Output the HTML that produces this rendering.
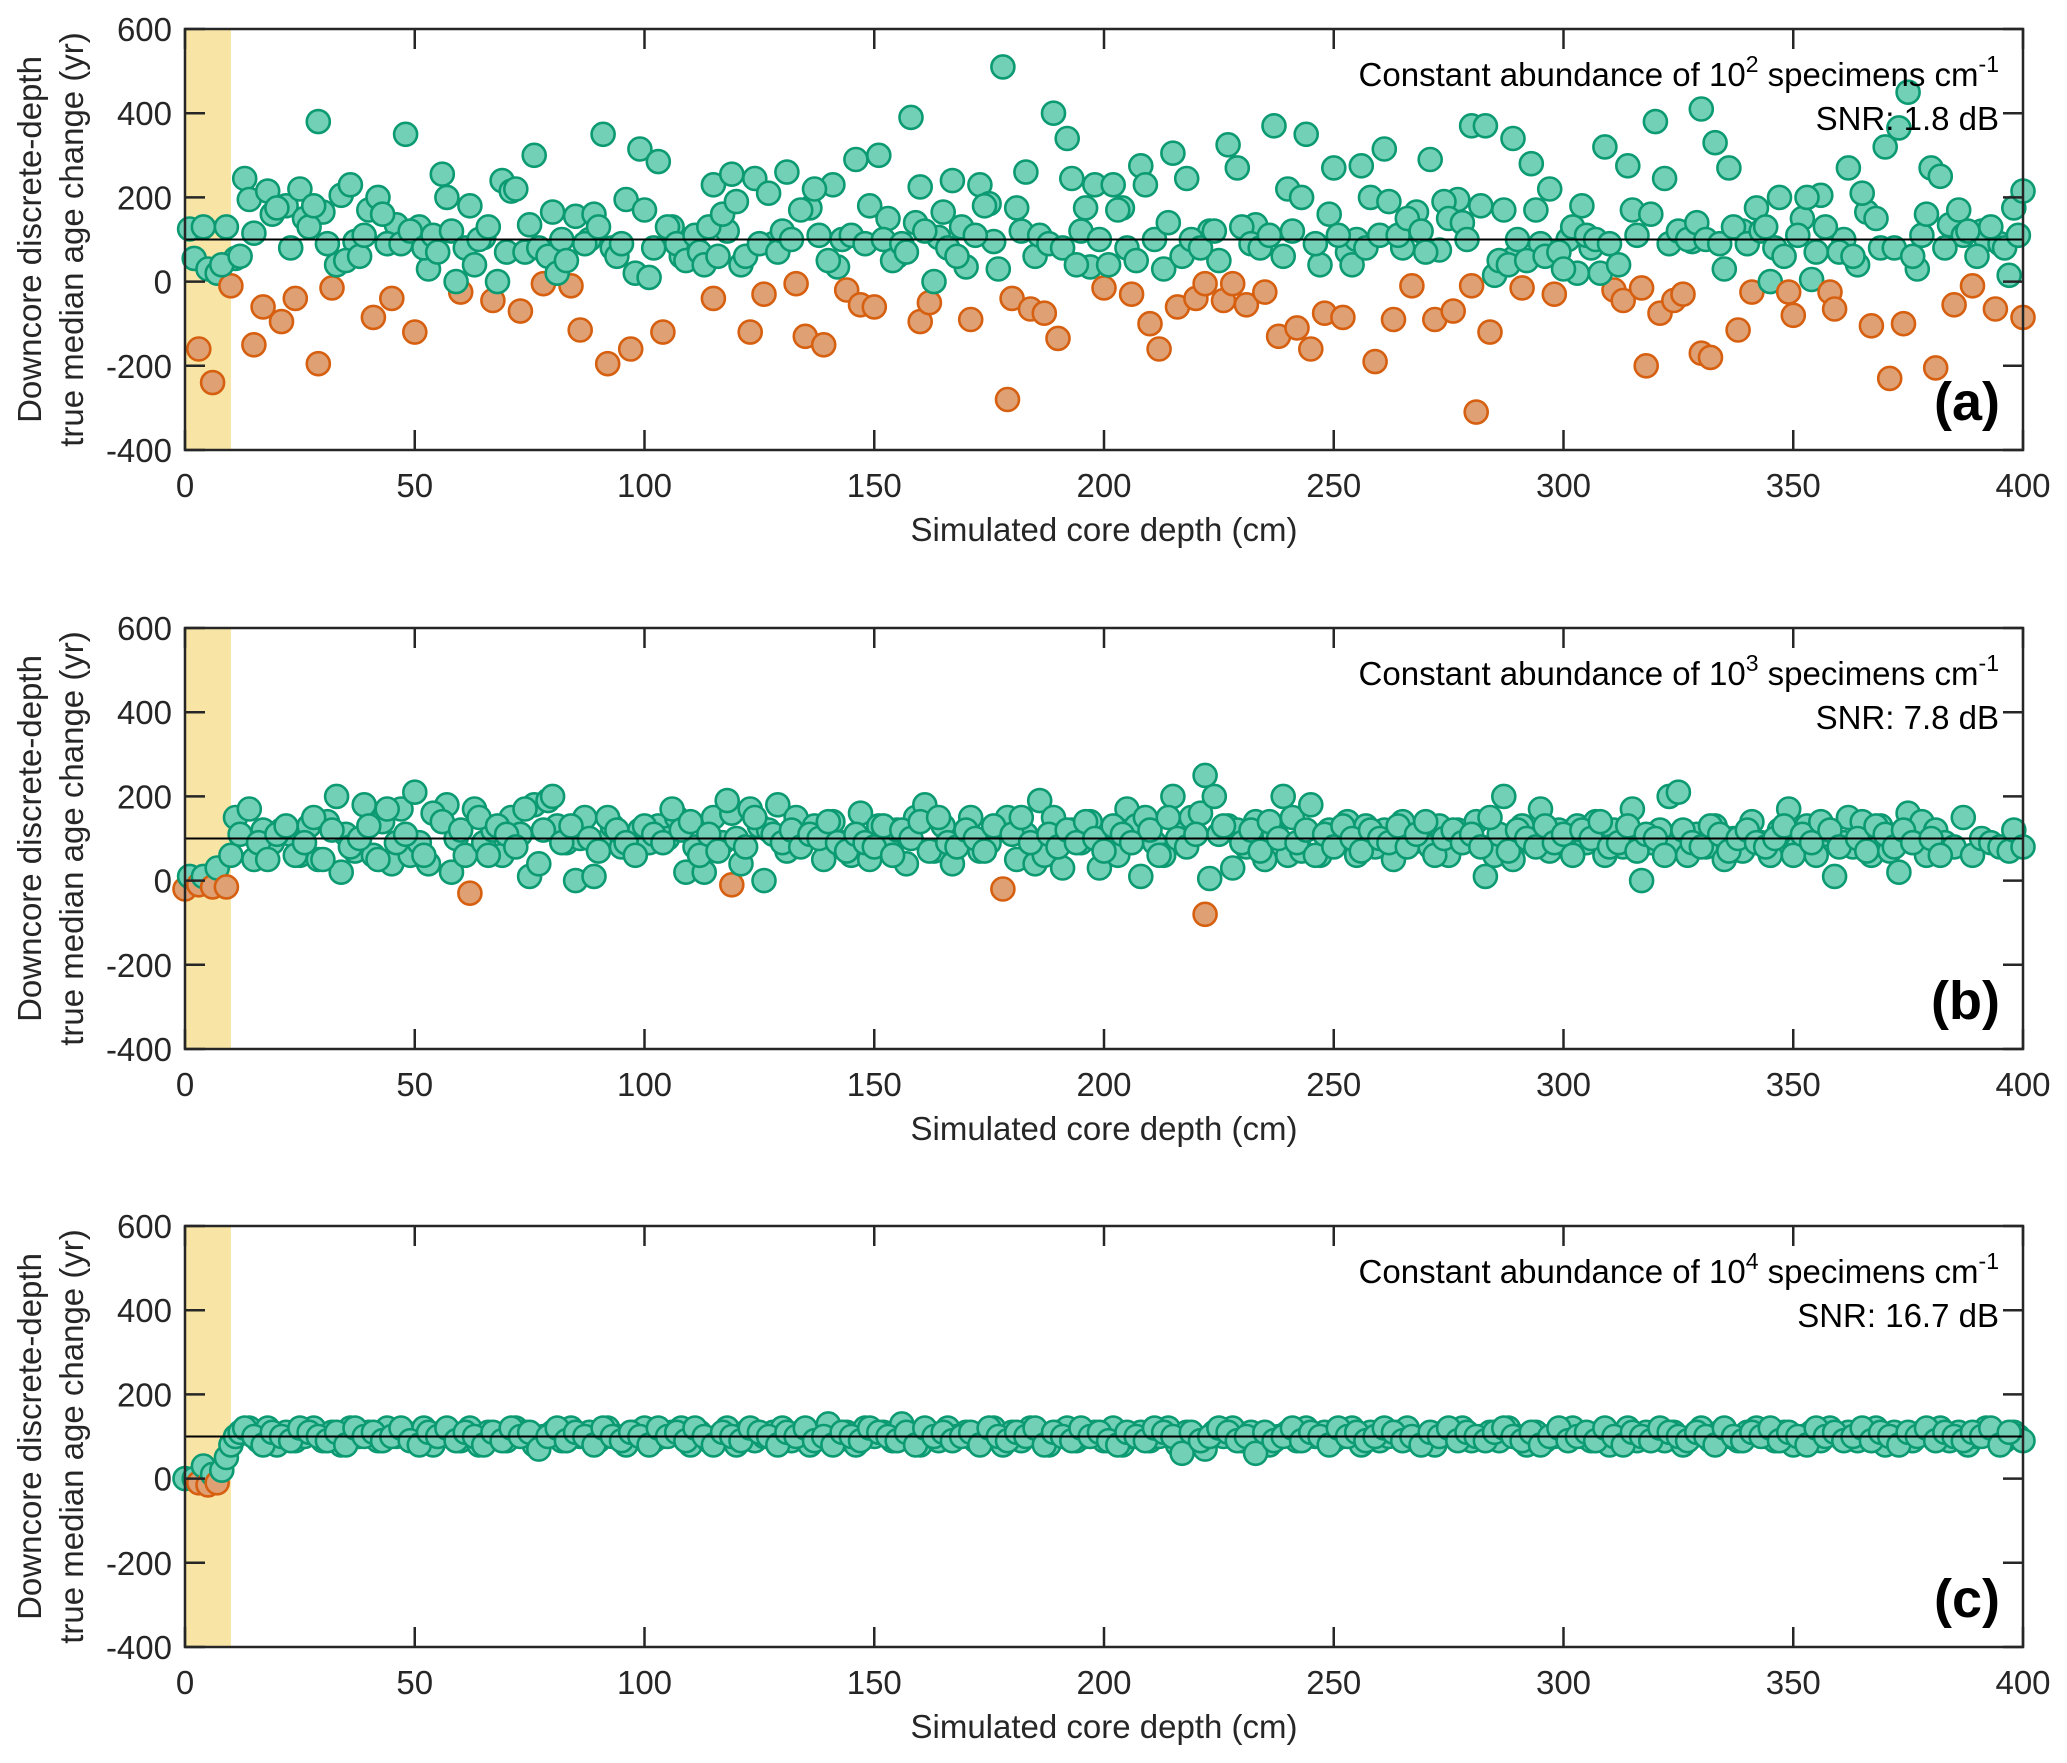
<!DOCTYPE html>
<html><head><meta charset="utf-8"><title>Downcore age change</title>
<style>
html,body{margin:0;padding:0;background:#fff;}
svg{display:block;font-family:"Liberation Sans",Arial,sans-serif;}
</style></head>
<body>
<svg id="fig" width="2067" height="1763" viewBox="0 0 2067 1763" xmlns="http://www.w3.org/2000/svg"></svg>
<script>
// ---------- data ----------
const xTicks = [0,50,100,150,200,250,300,350,400];
const yTicks = [-400,-200,0,200,400,600];
const panelLetters = ["(a)","(b)","(c)"];
const panelExps = ["2","3","4"];
const panelSNR = ["SNR: 1.8 dB","SNR: 7.8 dB","SNR: 16.7 dB"];
const refValue = 100;
const shadeDepth = 10;

const depthsA = [1,2,3,4,5,6,7,9,10,11,13,14,15,15,17,18,19,21,22,23,24,25,26,29,29,30,32,33,34,36,37,40,41,42,45,46,48,50,51,53,56,57,60,62,65,67,69,71,73,75,76,78,80,84,86,88,91,92,97,99,103,104,
106,108,110,115,115,118,119,121,123,124,126,128,131,133,135,136,139,141,142,144,146,147,149,150,151,153,155,158,160,160,162,164,165,167,170,171,173,175,176,178,179,180,181,183,184,185,187,189,190,192,193,196,197,198,200,202,204,206,208,210,212,213,215,216,218,220,222,223,225,226,227,228,229,231,233,235,237,238,240,242,244,245,247,248,250,252,253,255,256,259,261,263,265,267,268,271,272,273,276,277,280,280,281,283,284,285,289,289,291,293,295,297,298,301,303,304,306,309,311,313,314,317,318,320,321,322,324,326,328,330,330,332,333,335,336,338,339,341,342,345,347,349,350,352,354,356,358,359,361,362,364,366,367,369,370,371,373,374,375,377,380,381,382,384,385,387,389,391,392,394,395,397,398,400,400,
8,12,20,27,28,31,35,38,39,43,44,47,49,52,54,55,58,59,61,63,64,66,68,70,72,74,77,79,81,82,83,85,87,89,90,93,94,95,96,98,100,101,102,105,107,109,111,112,113,114,116,117,120,122,125,127,129,130,132,134,137,138,140,143,145,148,152,154,156,157,159,161,163,166,168,169,172,174,177,182,186,188,191,194,195,199,201,203,205,207,209,211,214,217,219,221,224,230,232,234,236,239,241,243,246,249,251,254,257,258,260,262,264,266,269,270,274,275,278,279,282,286,287,288,290,292,294,296,299,300,302,305,307,308,310,312,315,316,319,323,325,327,329,331,334,337,340,343,344,346,348,351,353,355,357,360,363,365,368,372,376,378,379,383,386,388,390,393,396,399];
const valuesA = [125,55,-160,130,30,-240,20,130,-10,55,245,195,-150,115,-60,215,160,-95,180,80,-40,220,150,-195,380,165,-15,40,205,230,95,170,-85,200,-40,135,350,-120,130,30,255,200,-25,180,105,-45,240,215,-70,135,300,-5,165,-10,-115,100,350,-195,-160,315,285,-120,
130,60,100,-40,230,120,255,40,-120,245,-30,90,260,-5,-130,175,-150,230,35,-20,290,-55,180,-60,300,150,60,390,-95,225,-50,105,165,240,35,-90,230,185,95,510,-280,-40,175,260,-65,60,-75,400,-135,340,245,175,35,230,-15,230,175,-30,275,-100,-160,30,305,-60,245,-40,-5,120,50,-45,325,-5,270,-55,135,-25,370,-130,220,-110,350,-160,40,-75,270,-85,70,100,275,-190,315,-90,80,-10,165,290,-90,75,-70,195,-10,370,-310,370,-120,15,55,340,-15,280,90,220,-30,100,20,180,80,320,-20,-45,275,-15,-200,380,-75,245,-45,-30,95,410,-170,-180,330,30,270,-115,120,-25,175,0,200,-25,-80,150,5,205,-25,-65,100,270,40,165,-105,80,320,-230,365,-100,450,30,270,-205,250,135,-55,110,-10,120,100,-65,90,15,175,215,-85,
40,60,175,130,180,90,50,60,110,160,90,90,120,80,110,70,120,0,80,40,100,130,0,70,220,70,80,60,20,100,50,155,90,160,130,80,60,90,195,20,170,10,80,130,90,50,110,70,40,130,60,160,190,60,90,210,70,120,100,170,220,110,50,100,110,90,100,50,90,70,140,120,0,80,60,130,110,180,30,120,110,90,80,40,120,100,40,170,80,50,230,100,140,60,100,80,120,130,90,80,110,60,120,200,90,160,110,40,80,200,110,190,110,150,120,70,190,150,140,100,180,50,170,40,100,50,170,60,70,30,130,110,100,20,90,40,170,110,160,90,120,100,140,100,90,130,90,120,130,80,60,110,200,70,130,70,60,210,150,80,60,110,160,80,170,120,60,130,80,110];

const depthsB = [0,1,3,4,6,7,9,10,11,14,15,17,19,21,23,25,27,29,31,33,34,35,37,39,41,43,45,47,49,50,51,53,55,57,58,59,61,62,63,65,67,69,71,73,75,76,77,79,80,81,83,85,86,87,89,91,93,95,97,99,101,103,105,107,109,111,113,115,117,119,119,121,123,125,126,127,129,131,133,135,137,139,141,143,145,147,149,151,153,155,157,159,161,163,165,167,169,171,173,175,177,178,179,181,183,185,186,187,189,191,193,195,197,199,201,203,205,207,208,209,211,213,215,217,219,221,222,222,223,224,225,227,228,229,231,233,235,237,239,240,241,243,245,247,249,251,253,255,257,259,261,263,265,267,269,271,273,275,277,279,281,283,285,286,287,289,291,293,295,297,299,301,303,305,307,309,311,313,315,317,319,321,323,324,325,327,329,331,333,335,337,339,341,343,345,347,349,351,353,355,357,359,361,362,363,365,367,369,371,373,375,377,378,379,381,383,385,387,389,391,393,395,397,398,400,
12,16,18,20,22,24,26,28,30,32,36,38,40,42,44,46,48,52,54,56,60,64,66,68,70,72,74,78,82,84,88,90,92,94,96,98,100,102,104,106,108,110,112,114,116,118,120,122,124,128,130,132,134,136,138,140,142,144,146,148,150,152,154,156,158,160,162,164,166,168,170,172,174,176,180,182,184,188,190,192,194,196,198,200,202,204,206,210,212,214,216,218,220,226,230,232,234,236,238,242,244,246,248,250,252,254,256,258,260,262,264,266,268,270,272,274,276,278,280,282,284,288,290,292,294,296,298,300,302,304,306,308,310,312,314,316,318,320,322,326,328,330,332,334,336,338,340,342,344,346,348,350,352,354,356,358,360,364,366,368,370,372,374,376,380,382,384,386,388,390,392,394,396,399];
const valuesB = [-20,10,-10,10,-15,30,-15,60,150,170,50,120,90,120,110,60,130,50,140,200,20,110,70,180,60,140,40,170,60,210,90,40,160,180,20,100,60,-30,170,90,120,60,150,110,10,180,40,190,200,130,90,0,100,150,10,90,130,80,100,120,90,130,100,150,20,80,20,150,90,-10,160,40,170,130,0,120,180,70,150,100,130,50,140,90,60,160,50,130,80,120,40,150,180,70,130,40,100,150,70,90,130,-20,150,50,110,40,190,60,150,30,120,90,140,30,110,60,170,130,10,150,90,60,200,110,150,160,-80,250,5,200,110,130,30,120,80,140,50,110,200,60,150,70,180,60,120,90,140,60,130,80,120,50,140,90,110,80,130,60,120,100,140,10,60,110,200,50,130,90,170,70,120,80,130,90,140,60,120,80,170,0,90,120,200,80,210,60,110,80,130,50,100,70,140,90,60,120,170,80,130,60,110,10,90,150,80,140,60,130,70,20,160,90,140,60,120,90,80,150,60,
100,90,80,70,120,80,110,90,50,110,130,60,90,150,50,120,80,100,130,50,170,90,110,60,160,140,120,150,60,130,110,80,170,120,90,130,100,70,150,120,90,60,130,110,90,170,120,140,60,110,70,190,100,80,150,110,90,120,80,110,100,140,90,70,110,90,80,130,60,120,100,140,70,150,90,80,120,100,70,130,110,150,90,110,80,120,90,140,100,70,130,110,90,120,60,150,100,80,110,130,90,120,70,140,100,90,120,60,110,80,130,100,70,120,100,90,130,80,110,140,60,100,120,90,110,80,150,70,120,100,80,130,90,110,60,120,100,140,80,90,130,70,110,100,60,120,90,80,130,110,70,100,120,90,80,100,130,60,110,90,140,120,80,100,70,130,110,80,120,90,100,60];

const depthsC = [0,2,3,4,5,6,7,8,9,10,11,12,14,16,18,20,22,24,26,28,30,32,34,36,38,40,42,44,46,48,50,52,54,56,58,60,62,64,66,68,70,72,74,76,78,80,82,84,86,88,90,92,94,96,98,100,102,104,106,108,110,112,114,116,118,120,122,124,126,128,130,132,134,136,138,140,142,144,146,148,150,152,154,156,158,160,162,164,166,168,170,172,174,176,178,180,182,184,186,188,190,192,194,196,198,200,202,204,206,208,210,212,214,216,218,220,222,224,226,228,230,232,234,236,238,240,242,244,246,248,250,252,254,256,258,260,262,264,266,268,270,272,274,276,278,280,282,284,286,288,290,292,294,296,298,300,302,304,306,308,310,312,314,316,318,320,322,324,326,328,330,332,334,336,338,340,342,344,346,348,350,352,354,356,358,360,362,364,366,368,370,372,374,376,378,380,382,384,386,388,390,392,394,396,398,399,400,
13,15,17,19,21,23,25,27,29,31,33,35,37,39,41,43,45,47,49,51,53,55,57,59,61,63,65,67,69,71,73,75,77,79,81,83,85,87,89,91,93,95,97,99,101,103,105,107,109,111,113,115,117,119,121,123,125,127,129,131,133,135,137,139,141,143,145,147,149,151,153,155,157,159,161,163,165,167,169,171,173,175,177,179,181,183,185,187,189,191,193,195,197,199,201,203,205,207,209,211,213,215,217,219,221,223,225,227,229,231,233,235,237,239,241,243,245,247,249,251,253,255,257,259,261,263,265,267,269,271,273,275,277,279,281,283,285,287,289,291,293,295,297,299,301,303,305,307,309,311,313,315,317,319,321,323,325,327,329,331,333,335,337,339,341,343,345,347,349,351,353,355,357,359,361,363,365,367,369,371,373,375,377,379,381,383,385,387,389,391,393,395,397];
const valuesC = [0,0,-10,30,-15,10,-10,20,50,80,100,110,120,90,120,80,110,90,100,120,90,110,80,120,100,110,90,120,100,110,90,120,80,110,100,90,120,80,110,100,90,120,110,80,100,110,90,120,100,110,90,120,100,80,110,120,90,100,110,120,80,110,90,100,120,80,110,90,100,110,120,90,110,80,100,130,90,110,80,120,100,110,90,130,100,80,110,90,120,100,110,90,100,120,80,110,90,120,100,80,110,120,90,100,110,90,120,80,100,110,90,100,120,80,110,90,70,110,100,120,90,110,100,80,100,110,90,120,100,110,90,100,120,80,110,90,100,110,120,90,100,80,110,100,120,90,100,110,90,120,100,80,110,90,100,110,120,100,90,110,80,100,120,90,110,100,90,110,80,100,120,90,110,100,90,110,120,100,90,110,80,100,110,90,120,100,110,90,100,120,80,110,100,90,110,100,120,90,110,80,100,120,100,90,
110,100,90,120,100,80,110,100,90,120,110,100,90,110,80,120,100,110,90,100,120,90,80,110,100,120,90,110,100,80,110,90,120,100,110,70,100,120,90,110,100,80,120,100,90,110,100,80,120,100,110,90,120,100,80,110,100,90,120,110,100,80,110,100,120,90,100,80,110,100,90,120,110,100,90,110,80,120,100,110,90,100,110,80,120,100,90,110,100,120,80,110,100,90,120,100,110,90,80,110,100,90,120,110,100,60,110,90,100,120,110,90,100,60,110,90,100,120,90,110,100,80,120,100,110,90,100,120,110,90,100,80,110,100,120,90,110,100,90,110,120,100,90,110,80,100,120,90,100,110,90,120,100,80,110,100,90,120,110,100,90,110,100,80,120,100,90,110,100,120,90,110,100,80,120,100,110,90,100,120,90,110,100,80,110,100,120,90,110,100,90,110,100,120,80,110,100,90];

// ---------- layout ----------
const NS = "http://www.w3.org/2000/svg";
const svg = document.getElementById("fig");
const L = 185, R = 2023, H = 421;
const tops = [29, 628, 1226];
const FS = 33;
function mk(tag, attrs, parent){
  const e = document.createElementNS(NS, tag);
  for (const k in attrs) e.setAttribute(k, attrs[k]);
  (parent||svg).appendChild(e);
  return e;
}
const datasets = [[depthsA, valuesA],[depthsB, valuesB],[depthsC, valuesC]];

tops.forEach((T, p) => {
  const xs = v => L + (v - 0) / 400 * (R - L);
  const ys = v => T + (600 - v) / 1000 * H;
  const g = mk("g", {});
  
  

  const shade = mk("rect", {x: L, y: T, width: xs(shadeDepth) - L, height: H, fill: "#f8e5a6"}, g);
  
  

  const pts = mk("g", {}, g);
  
  
  const [ds, vs] = datasets[p];
  const n = Math.min(ds.length, vs.length);
  for (let i = 0; i < n; i++) {
    if (typeof vs[i] !== "number" || typeof ds[i] !== "number") continue;
    const neg = vs[i] < 0;
    const c = mk("circle", {cx: xs(ds[i]).toFixed(1), cy: ys(vs[i]).toFixed(1), r: 11.5,
      fill: neg ? "#dfa173" : "#72d0b6", stroke: neg ? "#d65f10" : "#0c9a72", "stroke-width": 2.6}, pts);
    
    
  }

  const ref = mk("line", {x1: L, x2: R, y1: ys(refValue), y2: ys(refValue), stroke: "#000", "stroke-width": 2}, g);
  
  

  const fr = mk("rect", {x: L, y: T, width: R - L, height: H, fill: "none", stroke: "#262626", "stroke-width": 2.5}, g);
  
  

  xTicks.forEach(t => {
    const x = xs(t);
    mk("line", {x1: x, x2: x, y1: T + H, y2: T + H - 20, stroke: "#262626", "stroke-width": 2.5}, g);
    mk("line", {x1: x, x2: x, y1: T, y2: T + 20, stroke: "#262626", "stroke-width": 2.5}, g);
    const tl = mk("text", {x: x, y: T + H + 47, "text-anchor": "middle", "font-size": FS, fill: "#262626"}, g);
    tl.textContent = t;
    
    
  });
  yTicks.forEach(t => {
    const y = ys(t);
    mk("line", {x1: L, x2: L + 20, y1: y, y2: y, stroke: "#262626", "stroke-width": 2.5}, g);
    mk("line", {x1: R, x2: R - 20, y1: y, y2: y, stroke: "#262626", "stroke-width": 2.5}, g);
    const tl = mk("text", {x: L - 13, y: y + 12, "text-anchor": "end", "font-size": FS, fill: "#262626"}, g);
    tl.textContent = t;
    
    
  });

  const xt = mk("text", {x: (L + R) / 2, y: T + H + 91, "text-anchor": "middle", "font-size": FS, fill: "#262626"}, g);
  xt.textContent = "Simulated core depth (cm)";
  
  
  const cy = T + H / 2;
  const yt = mk("text", {transform: `translate(41,${cy}) rotate(-90)`, "text-anchor": "middle", "font-size": FS, fill: "#262626"}, g);
  yt.textContent = "Downcore discrete-depth";
  
  
  const yt2 = mk("text", {transform: `translate(83,${cy}) rotate(-90)`, "text-anchor": "middle", "font-size": FS, fill: "#262626"}, g);
  yt2.textContent = "true median age change (yr)";
  
  

  const an = mk("text", {x: 1999, y: T + 57, "text-anchor": "end", "font-size": FS, fill: "#000"}, g);
  
  
  const s1 = mk("tspan", {}, an); s1.textContent = "Constant abundance of 10";
  const s2 = mk("tspan", {dy: -14, "font-size": 23}, an); s2.textContent = panelExps[p];
  const s3 = mk("tspan", {dy: 14}, an); s3.textContent = " specimens cm";
  const s4 = mk("tspan", {dy: -14, "font-size": 23}, an); s4.textContent = "-1";
  const snr = mk("text", {x: 1999, y: T + 101, "text-anchor": "end", "font-size": FS, fill: "#000"}, g);
  snr.textContent = panelSNR[p];
  
  
  const lt = mk("text", {x: 2000, y: T + 391, "text-anchor": "end", "font-size": 54, "font-weight": "bold", fill: "#000"}, g);
  lt.textContent = panelLetters[p];
  
  
});
</script>
</body></html>
